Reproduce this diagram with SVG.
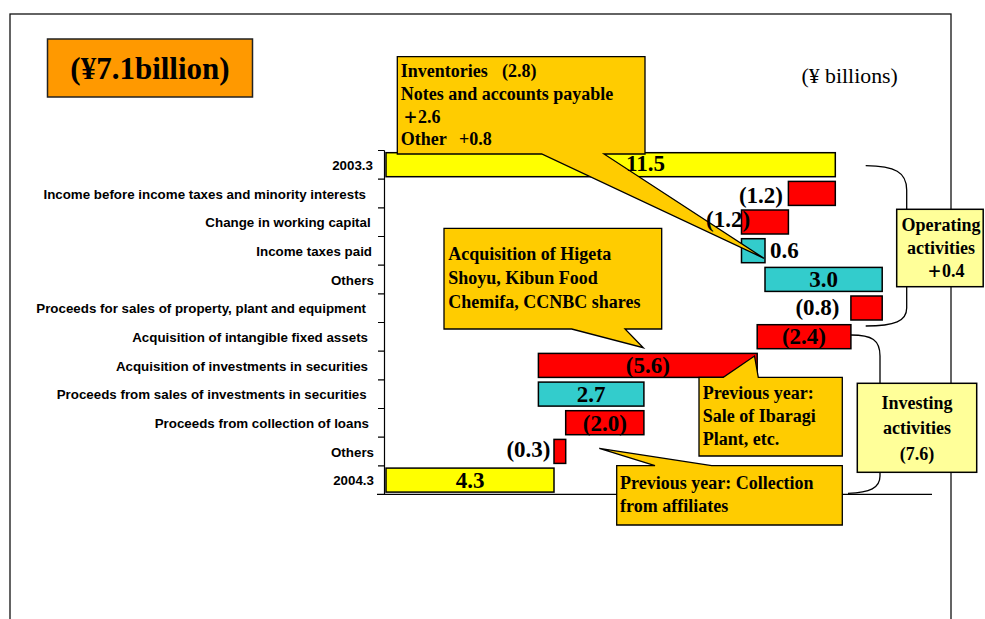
<svg xmlns="http://www.w3.org/2000/svg" width="985" height="619" viewBox="0 0 985 619">
<style>
.lbl{font-family:"Liberation Sans",Arial,sans-serif;font-weight:bold;font-size:13.35px;text-anchor:end;fill:#000}
.val{font-family:"Liberation Serif","Times New Roman",serif;font-weight:bold;font-size:23px;fill:#000}
.mid{text-anchor:middle}
.end{text-anchor:end}
.co{font-family:"Liberation Serif","Times New Roman","Noto Sans CJK JP",serif;font-weight:bold;font-size:18px;fill:#000}
.pl{font-family:"Noto Sans CJK JP",sans-serif;font-size:15px;font-weight:900}
.bar{stroke:#000;stroke-width:1.5}
.y{fill:#FFFF00}.r{fill:#FF0000}.c{fill:#33CCCC}
.callout{fill:#FFCC00;stroke:#000;stroke-width:1.3;stroke-linejoin:miter}
.sum{fill:#FFFF99;stroke:#000;stroke-width:1.5}
.brace{fill:none;stroke:#000;stroke-width:1.3}
.axis{stroke:#000;stroke-width:1.2;fill:none}
</style>
<rect x="10" y="14" width="941" height="700" fill="#fff" stroke="#111" stroke-width="1.3"/>

<g id="title">
<rect x="47.5" y="39" width="205" height="58" fill="#FF9900" stroke="#222" stroke-width="1.5"/>
<text x="150" y="79" font-family="'Liberation Serif','Times New Roman',serif" font-weight="bold" font-size="31" text-anchor="middle">(¥7.1billion)</text>
</g>
<text id="unit" x="801.5" y="83" font-family="'Liberation Serif','Times New Roman',serif" font-size="21.8">(¥ billions)</text>

<g id="axis">
<path class="axis" d="M384.5,150.5V494.5 M378,150.5H384.5 M378,179.2H384.5 M378,207.8H384.5 M378,236.5H384.5 M378,265.2H384.5 M378,293.8H384.5 M378,322.5H384.5 M378,351.2H384.5 M378,379.8H384.5 M378,408.5H384.5 M378,437.2H384.5 M378,465.8H384.5 M377,494.3H932"/>
</g>

<g id="row-labels">
<text class="lbl" x="373" y="170">2003.3</text>
<text class="lbl" x="366" y="198.5">Income before income taxes and minority interests</text>
<text class="lbl" x="370.7" y="227.2">Change in working capital</text>
<text class="lbl" x="372" y="255.8">Income taxes paid</text>
<text class="lbl" x="374" y="284.5">Others</text>
<text class="lbl" x="366" y="313.2">Proceeds for sales of property, plant and equipment</text>
<text class="lbl" x="368" y="341.8">Acquisition of intangible fixed assets</text>
<text class="lbl" x="368" y="370.5">Acquisition of investments in securities</text>
<text class="lbl" x="366.7" y="399.2">Proceeds from sales of investments in securities</text>
<text class="lbl" x="369" y="427.8">Proceeds from collection of loans</text>
<text class="lbl" x="374" y="456.5">Others</text>
<text class="lbl" x="374" y="485.2">2004.3</text>
</g>

<g id="bars">
<g id="bar-2003"><rect class="bar y" x="386" y="152.7" width="449.3" height="24"/></g>
<g id="bar-income"><rect class="bar r" x="788.4" y="181.4" width="46.9" height="24"/></g>
<g id="bar-working"><rect class="bar r" x="741.5" y="210" width="46.9" height="24"/></g>
<g id="bar-taxes"><rect class="bar c" x="741.5" y="238.7" width="23.5" height="24"/></g>
<g id="bar-others1"><rect class="bar c" x="765" y="267.4" width="117.2" height="24"/></g>
<g id="bar-ppe"><rect class="bar r" x="850.9" y="296" width="31.3" height="24"/></g>
<g id="bar-intangible"><rect class="bar r" x="757.2" y="324.7" width="93.7" height="24"/></g>
<g id="bar-acqinv"><rect class="bar r" x="538.4" y="353.4" width="218.8" height="24"/></g>
<g id="bar-salesinv"><rect class="bar c" x="538.4" y="382.1" width="105.5" height="24"/></g>
<g id="bar-loans"><rect class="bar r" x="565.7" y="410.7" width="78.2" height="24"/></g>
<g id="bar-others2"><rect class="bar r" x="554" y="439.4" width="11.7" height="24"/></g>
<g id="bar-2004"><rect class="bar y" x="386" y="468.1" width="168" height="24"/></g>
</g>

<g id="connectors">
<path class="brace" d="M865.7,165.7 C895,166 906.7,172 906.7,190 L906.7,308 C906.7,321 895,326 865.7,326"/>
<path class="brace" d="M851,335 C872,335 880,340 880,356 L880,476 C880,488 870,492.5 848,493.3"/>
</g>

<g id="operating">
<rect class="sum" x="896.7" y="209.3" width="86.5" height="77.4"/>
<text class="co mid" x="941" y="231">Operating</text>
<text class="co mid" x="941" y="253.5">activities</text>
<text class="co" x="927" y="276.5"><tspan class="pl">＋</tspan>0.4</text>
</g>

<g id="investing">
<rect class="sum" x="857.3" y="383.3" width="119.4" height="89"/>
<text class="co mid" x="917" y="408.5">Investing</text>
<text class="co mid" x="917" y="434">activities</text>
<text class="co mid" x="917" y="459.5">(7.6)</text>
</g>

<g id="callout-working">
<path class="callout" d="M397.3,56.7 H645 V154 H604 L764,258.3 L541.7,154 H397.3 Z"/>
<text class="co" x="400.7" y="77">Inventories<tspan x="502">(2.8)</tspan></text>
<text class="co" x="400.7" y="99.5">Notes and accounts payable</text>
<text class="co" x="403" y="122.5"><tspan class="pl">＋</tspan>2.6</text>
<text class="co" x="400.7" y="145">Other<tspan x="459">+0.8</tspan></text>
</g>

<g id="callout-acquisition">
<path class="callout" d="M444,228.3 H661.7 V329 H625 L643.3,347.7 L571.7,329 H444 Z"/>
<text class="co" x="448.3" y="259.5">Acquisition of Higeta</text>
<text class="co" x="448.3" y="284">Shoyu, Kibun Food</text>
<text class="co" x="448.3" y="307.5">Chemifa, CCNBC shares</text>
</g>

<g id="callout-ibaragi">
<path class="callout" d="M699,377.3 H723.3 L754.5,356 L758.3,377.3 H842.3 V456 H699 Z"/>
<text class="co" x="702.7" y="398.5">Previous year:</text>
<text class="co" x="702.7" y="421.8">Sale of Ibaragi</text>
<text class="co" x="702.7" y="445">Plant, etc.</text>
</g>

<g id="callout-affiliates">
<path class="callout" d="M616.7,465.7 H655 L599.3,448.3 L711.7,465.7 H842.3 V525 H616.7 Z"/>
<text class="co" x="620" y="488.5">Previous year: Collection</text>
<text class="co" x="620" y="511.8">from affiliates</text>
</g>

<g id="values">
<text class="val" x="626" y="171">11.5</text>
<text class="val end" x="783" y="203">(1.2)</text>
<text class="val" x="706" y="227">(1.2)</text>
<text class="val" x="770" y="258">0.6</text>
<text class="val mid" x="823.6" y="287">3.0</text>
<text class="val end" x="839.5" y="314.5">(0.8)</text>
<text class="val mid" x="804" y="344">(2.4)</text>
<text class="val mid" x="647.8" y="373">(5.6)</text>
<text class="val mid" x="591" y="402">2.7</text>
<text class="val mid" x="604.8" y="430.5">(2.0)</text>
<text class="val end" x="550.5" y="456.5">(0.3)</text>
<text class="val mid" x="470" y="488">4.3</text>
</g>
</svg>
